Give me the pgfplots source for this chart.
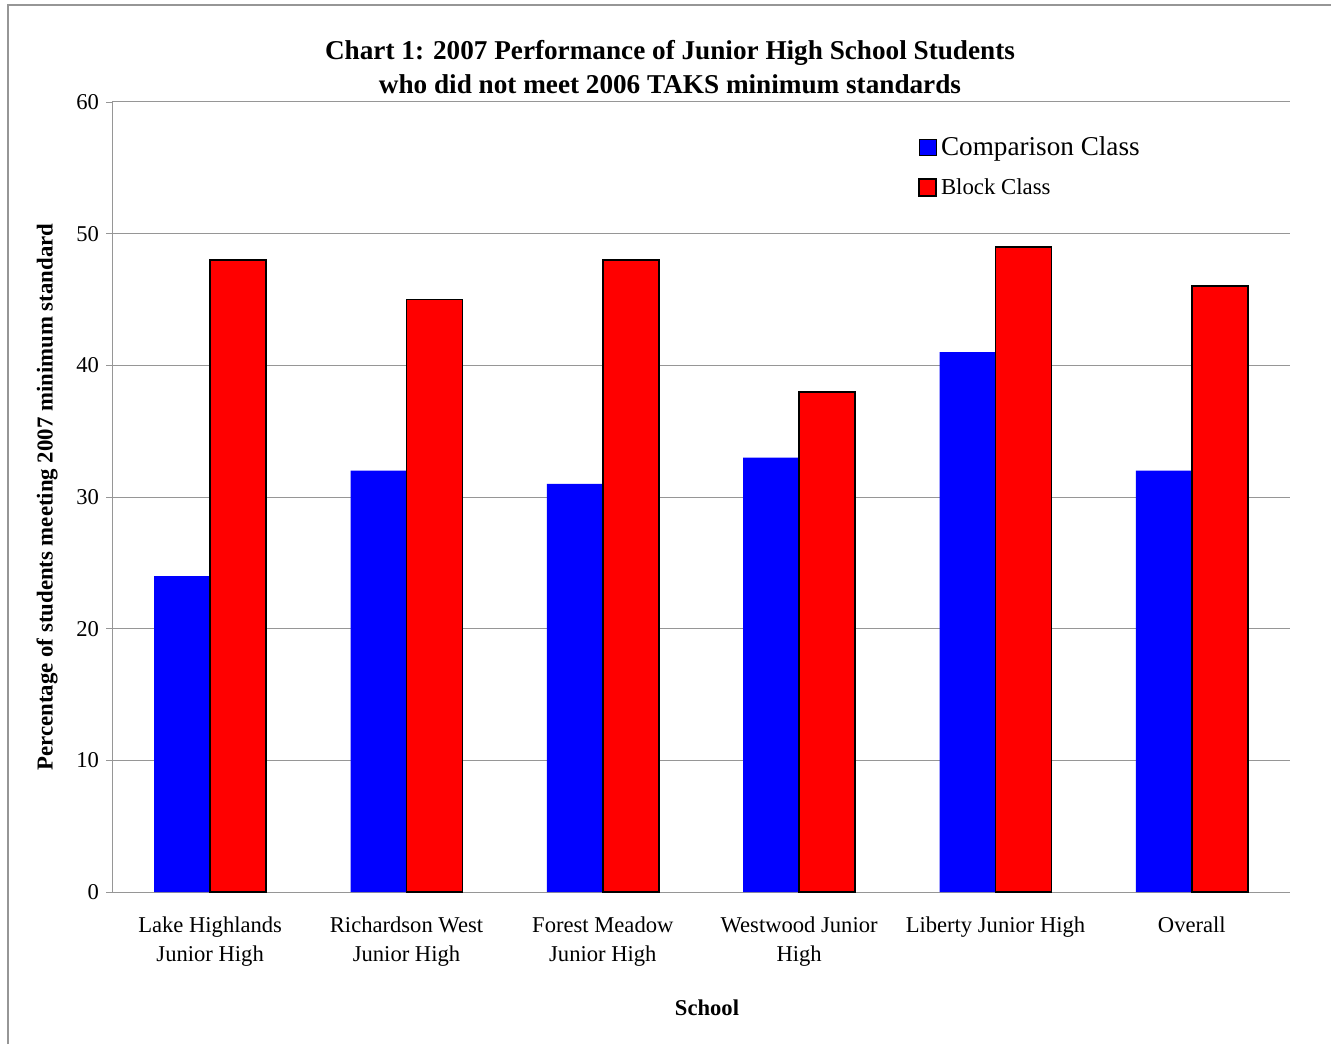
\documentclass[border=0pt]{standalone}
\usepackage{fontspec}
\setmainfont{Liberation Serif}
\usepackage{pgfplots}
\pgfplotsset{compat=1.18}
\definecolor{gridgray}{RGB}{150,150,150}
\begin{document}
\begin{tikzpicture}
\path[use as bounding box] (0,0) rectangle (665.5pt,522pt);
\draw[gridgray, line width=0.6pt] (4pt,0) -- (4pt,519.5pt) -- (665.5pt,519.5pt);
\begin{axis}[
  at={(56pt,76pt)}, anchor=south west,
  scale only axis, width=589pt, height=395pt,
  ybar=0pt, bar width=28pt,
  xmin=-0.5, xmax=5.5, ymin=0, ymax=60,
  xtick=data,
  xticklabels={{Lake Highlands\\Junior High},{Richardson West\\Junior High},{Forest Meadow\\Junior High},{Westwood Junior\\High},{Liberty Junior High},{Overall}},
  xticklabel style={align=center, font=\fontsize{11.3}{14.5}\selectfont, yshift=-6pt},
  ytick={0,10,...,60},
  yticklabel style={font=\fontsize{11.3}{13}\selectfont},
  /pgf/number format/assume math mode=true,
  axis lines*=left,
  axis line style={gridgray, -},
  ymajorgrids, grid style={gridgray, line width=0.5pt},
  major tick length=3pt,
  tick align=outside,
  xtick style={draw=none},
  ytick style={gridgray},
  legend style={at={(912pt/2-56pt,1044pt/2-128pt/2-76pt)}, anchor=north west, draw=none, fill=none, row sep=6pt, font=\fontsize{11.4}{13}\selectfont},
  legend cell align=left,
  legend image code/.code={\draw[#1] (0pt,-4.2pt) rectangle (8.4pt,4.2pt);},
]
\addplot[fill=blue, draw=none] coordinates {(0,24) (1,32) (2,31) (3,33) (4,41) (5,32)};
\addlegendentry{\fontsize{13.6}{16}\selectfont Comparison Class}
\addplot[fill=red, draw=black, line width=0.9pt] coordinates {(0,48) (1,45) (2,48) (3,38) (4,49) (5,46)};
\addlegendentry{Block Class}
\end{axis}
\node[font=\bfseries\fontsize{13.6}{17}\selectfont, align=center] at (335pt,488.5pt) {Chart 1: 2007 Performance of Junior High School Students\\who did not meet 2006 TAKS minimum standards};
\node[font=\bfseries\fontsize{11.4}{13}\selectfont, rotate=90] at (23.5pt,273.5pt) {Percentage of students meeting 2007 minimum standard};
\node[font=\bfseries\fontsize{11.3}{13}\selectfont] at (353.5pt,18pt) {School};
\end{tikzpicture}
\end{document}
